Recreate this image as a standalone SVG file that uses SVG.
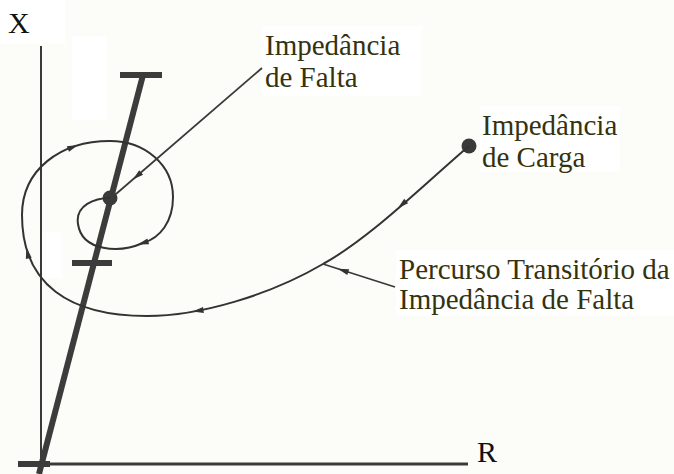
<svg xmlns="http://www.w3.org/2000/svg" xmlns:xlink="http://www.w3.org/1999/xlink" width="674" height="474" viewBox="0 0 674 474">
  <style>
    .bg { fill: #fcfcf8; }
    .patch { fill: #ffffff; }
    .axis { stroke: #3a3a3a; fill: none; }
    .thick { stroke: #3c3c3c; stroke-width: 6; fill: none; stroke-linecap: butt; }
    .thin { stroke: #333333; stroke-width: 2; fill: none; }
    .leader { stroke: #3a3a3a; stroke-width: 1.8; fill: none; }
    .dot { fill: #3a3a3a; }
    .ah { fill: #333333; }
    .lbl { font-family: "Liberation Serif", "Times New Roman", serif; font-size: 29px; fill: #33330f; }
    .ax { font-family: "Liberation Serif", "Times New Roman", serif; font-size: 30px; fill: #111111; }
  </style>
  <defs>
    <path id="ah" d="M5.5,0 L-5.5,-3 L-5.5,3 Z"/>
  </defs>

  <rect class="bg" x="0" y="0" width="674" height="474"/>
  <rect class="patch" x="0" y="0" width="65" height="44"/>
  <rect class="patch" x="72" y="36" width="35" height="84"/>
  <rect class="patch" x="42" y="232" width="20" height="46"/>
  <rect class="patch" x="262" y="26" width="160" height="70"/>
  <rect class="patch" x="480" y="106" width="140" height="66"/>
  <rect class="patch" x="396" y="250" width="278" height="66"/>

  <g id="axes">
    <line class="axis" x1="41" y1="46" x2="41" y2="474" stroke-width="2"/>
    <line class="axis" x1="18" y1="464" x2="468" y2="464" stroke-width="3"/>
    <text class="ax" x="8" y="33">X</text>
    <text class="ax" x="477" y="462">R</text>
  </g>

  <g id="impedance-line">
    <line class="thick" x1="39" y1="474" x2="143" y2="75"/>
    <line class="thick" x1="120" y1="75" x2="162" y2="75"/>
    <line class="thick" x1="72" y1="263" x2="112" y2="263"/>
    <line class="thick" x1="18" y1="464" x2="50" y2="464"/>
  </g>

  <g id="fault-impedance">
    <circle class="dot" cx="110" cy="198" r="7.5"/>
  </g>

  <g id="load-impedance">
    <circle class="dot" cx="469" cy="146" r="7.5"/>
  </g>

  <g id="connectors">
    <path id="trajectory" class="thin" d="M469,146 C420,188 370,238 323,264 C270,295 200,316 147,316 C70,316 22,285 22,215 C22,170 60,141 110,141 C145,141 173,165 173,197 C173,222 160,238 143,243 C120,253 82,252 78,224 C75,205 95,198 110,198"/>
    <use xlink:href="#ah" class="ah" transform="translate(402,204.6) rotate(139)"/>
    <use xlink:href="#ah" class="ah" transform="translate(198,310.7) rotate(172)"/>
    <use xlink:href="#ah" class="ah" transform="translate(27.6,253) rotate(-102)"/>
    <use xlink:href="#ah" class="ah" transform="translate(73,147) rotate(-22)"/>
    <use xlink:href="#ah" class="ah" transform="translate(143,243) rotate(163)"/>
    <line class="leader" x1="262" y1="68" x2="116" y2="194"/>
    <use xlink:href="#ah" class="ah" transform="translate(137,176) rotate(139)"/>
    <line class="leader" x1="395" y1="287" x2="323" y2="264"/>
    <use xlink:href="#ah" class="ah" transform="translate(343,270.4) rotate(198)"/>
  </g>

  <g id="label-fault">
    <text class="lbl" x="265" y="55">Impedância</text>
    <text class="lbl" x="265" y="87">de Falta</text>
  </g>
  <g id="label-load">
    <text class="lbl" x="482" y="135">Impedância</text>
    <text class="lbl" x="482" y="167">de Carga</text>
  </g>
  <g id="label-path">
    <text class="lbl" x="399" y="279">Percurso Transitório da</text>
    <text class="lbl" x="399" y="309">Impedância de Falta</text>
  </g>
</svg>
